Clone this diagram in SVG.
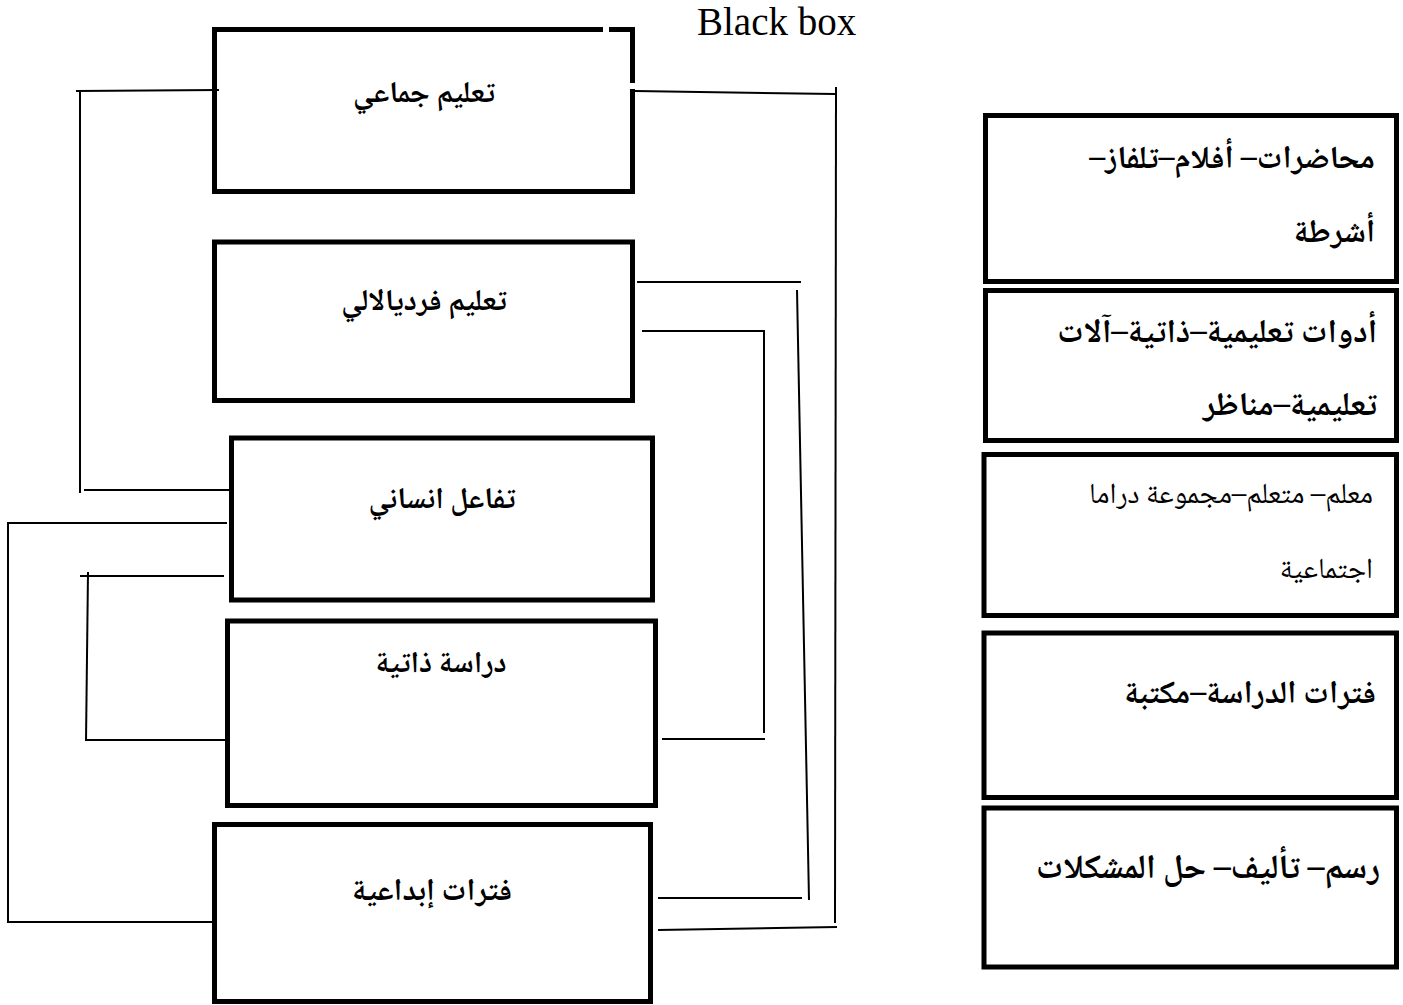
<svg xmlns="http://www.w3.org/2000/svg" width="1403" height="1005" viewBox="0 0 1403 1005">
<style>
.box{fill:none;stroke:#000;stroke-width:5;stroke-linejoin:miter}
.c line{stroke:#000;stroke-width:2}
.t{font-family:"Noto Naskh Arabic","Amiri","Noto Sans Arabic","DejaVu Sans",serif;fill:#000}
.b{font-weight:bold}
.lt{font-family:"Liberation Serif","Times New Roman",serif;font-size:39px;fill:#000}
</style>
<rect width="1403" height="1005" fill="#fff"/>
<text class="lt" x="697" y="35">Black box</text>
<g id="n1">
<path class="box" d="M603,29.5 H214.5 V191.5 H632.5 V89 M609,29.5 H632.5 V83"/>
<text class="t b" x="424" y="102" font-size="30" text-anchor="middle" direction="rtl">تعليم جماعي</text>
</g>
<g id="n2">
<rect class="box" x="214.5" y="242" width="418" height="158.5"/>
<text class="t b" x="424" y="310" font-size="30" text-anchor="middle" direction="rtl">تعليم فرديالالي</text>
</g>
<g id="n3">
<rect class="box" x="231.5" y="438" width="421" height="162"/>
<text class="t b" x="442" y="508" font-size="30" text-anchor="middle" direction="rtl">تفاعل انساني</text>
</g>
<g id="n4">
<rect class="box" x="227.5" y="621" width="428" height="184.5"/>
<text class="t b" x="441" y="672" font-size="30" text-anchor="middle" direction="rtl">دراسة ذاتية</text>
</g>
<g id="n5">
<rect class="box" x="214.5" y="824.5" width="436" height="177"/>
<text class="t b" x="432" y="900" font-size="31" text-anchor="middle" direction="rtl">فترات إبداعية</text>
</g>
<g id="r1">
<rect class="box" x="985.5" y="115.5" width="411" height="166"/>
<text class="t b" x="1375" y="168" font-size="32" direction="rtl">محاضرات– أفلام–تلفاز–</text>
<text class="t b" x="1375" y="242" font-size="32" direction="rtl">أشرطة</text>
</g>
<g id="r2">
<rect class="box" x="985.5" y="290.5" width="411" height="150"/>
<text class="t b" x="1377" y="342" font-size="33" direction="rtl">أدوات تعليمية–ذاتية–آلات</text>
<text class="t b" x="1377" y="415" font-size="33" direction="rtl">تعليمية–مناظر</text>
</g>
<g id="r3">
<rect class="box" x="984" y="454.5" width="412.5" height="161"/>
<text class="t" x="1373" y="503" font-size="29" direction="rtl">معلم– متعلم–مجموعة دراما</text>
<text class="t" x="1373" y="578" font-size="29" direction="rtl">اجتماعية</text>
</g>
<g id="r4">
<rect class="box" x="984" y="633" width="412.5" height="164.5"/>
<text class="t b" x="1376" y="703" font-size="32" direction="rtl">فترات الدراسة–مكتبة</text>
</g>
<g id="r5">
<rect class="box" x="984" y="808" width="412.5" height="159"/>
<text class="t b" x="1380" y="878" font-size="34" direction="rtl">رسم– تأليف– حل المشكلات</text>
</g>
<g id="connectors" class="c">
<line x1="76" y1="91" x2="219" y2="90"/>
<line x1="80" y1="92" x2="80" y2="493"/>
<line x1="84" y1="490" x2="229" y2="490"/>
<line x1="8" y1="523" x2="227" y2="523"/>
<line x1="8" y1="522" x2="8" y2="923"/>
<line x1="7" y1="922" x2="214" y2="922"/>
<line x1="80" y1="576" x2="224" y2="576"/>
<line x1="88" y1="572" x2="86" y2="741"/>
<line x1="85" y1="740" x2="225" y2="740"/>
<line x1="635" y1="91" x2="835" y2="94"/>
<line x1="836" y1="87" x2="835" y2="923"/>
<line x1="658" y1="930" x2="837" y2="927"/>
<line x1="637" y1="282" x2="801" y2="282"/>
<line x1="797" y1="290" x2="809" y2="900"/>
<line x1="658" y1="898" x2="802" y2="898"/>
<line x1="642" y1="331" x2="765" y2="331"/>
<line x1="764" y1="331" x2="764" y2="733"/>
<line x1="662" y1="739" x2="765" y2="739"/>
</g>
</svg>
